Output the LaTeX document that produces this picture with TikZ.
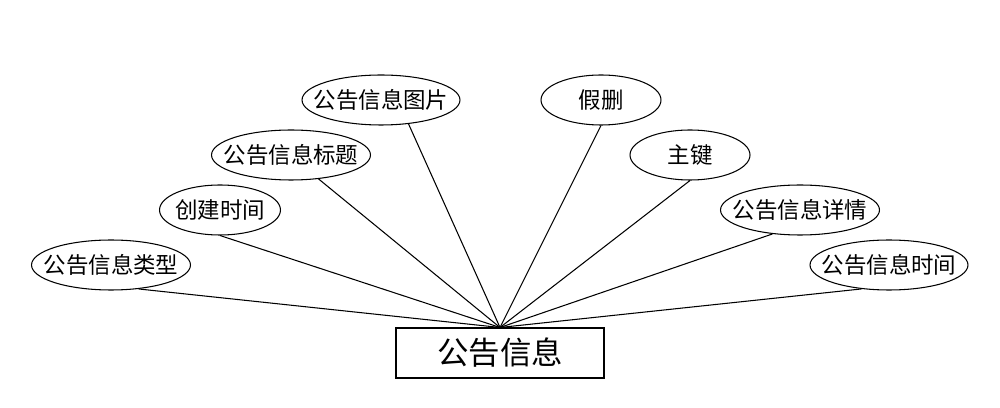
\documentclass[tikz,border=0pt]{standalone}
\usepackage{fontspec}
\newfontfamily\cjk{Noto Sans CJK SC}
\usetikzlibrary{shapes.geometric}
\newcommand{\attrtext}[1]{\makebox[0pt]{#1}}
\tikzstyle{attr} = [ellipse,draw=black,line width=0.6pt,inner sep=0pt,minimum width=3.18cm,minimum height=1cm,font=\cjk\fontsize{12.8pt}{14pt}\selectfont]
\tikzstyle{entity} = [rectangle,draw=black,line width=0.6pt,inner sep=0pt,minimum width=4.16cm,minimum height=1cm,font=\cjk\fontsize{17.9pt}{20pt}\selectfont]
\tikzstyle{link} = [draw=black,line width=0.6pt]

\begin{document}
\begin{tikzpicture}[x=0.02cm,y=-0.02cm]
	\useasboundingbox (0,0) rectangle (1000,408);
	\node (notice) [entity] at (500,353) {\attrtext{公告信息}};
	\node (type) [attr] at (111,265) {\attrtext{公告信息类型}};
	\node (ctime) [attr,minimum width=2.42cm] at (220,210) {\attrtext{创建时间}};
	\node (title) [attr] at (291,155) {\attrtext{公告信息标题}};
	\node (photo) [attr,minimum width=3.16cm] at (381,100) {\attrtext{公告信息图片}};
	\node (fakedel) [attr,minimum width=2.4cm] at (601,100) {\attrtext{假删}};
	\node (pkey) [attr,minimum width=2.4cm] at (690,155) {\attrtext{主键}};
	\node (detail) [attr] at (800,210) {\attrtext{公告信息详情}};
	\node (ntime) [attr,minimum width=3.16cm] at (889,265) {\attrtext{公告信息时间}};
	\draw [link] (type.-41) -- (notice.north);
	\draw [link] (ctime.south) -- (notice.north);
	\draw [link] (title.-41) -- (notice.north);
	\draw [link] (photo.-41) -- (notice.north);
	\draw [link] (fakedel.south) -- (notice.north);
	\draw [link] (pkey.south) -- (notice.north);
	\draw [link] (detail.-139) -- (notice.north);
	\draw [link] (ntime.-139) -- (notice.north);
\end{tikzpicture}
\end{document}
